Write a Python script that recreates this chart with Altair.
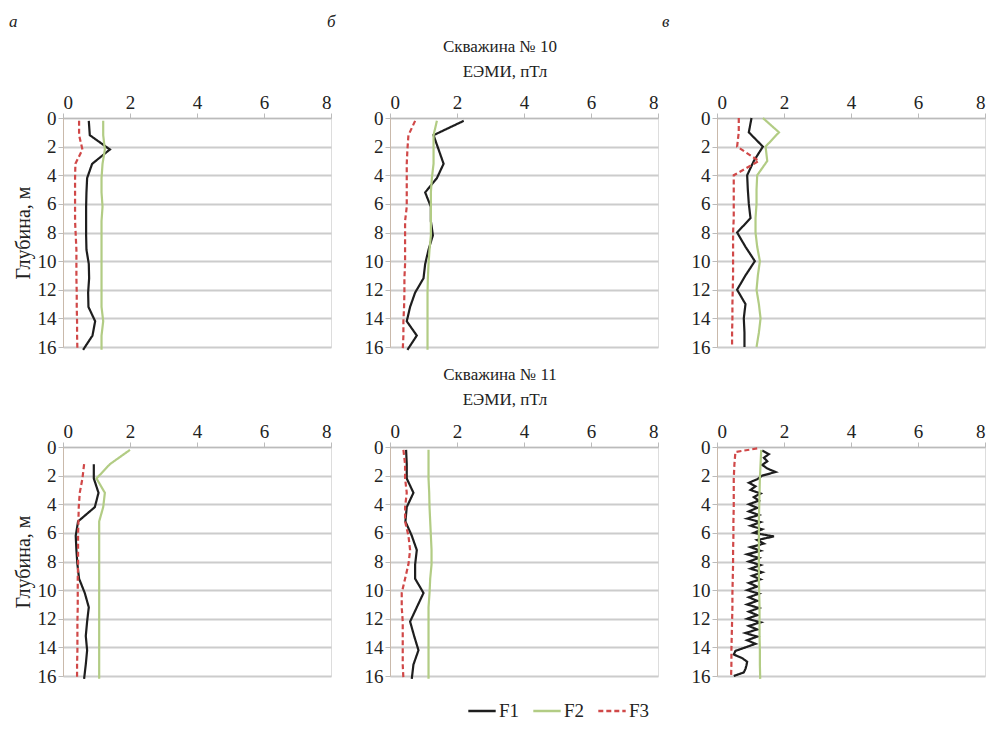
import altair as alt
import pandas as pd

# ---------------- data ----------------
SERIES = ["F1", "F2", "F3"]
COLORS = ["#1e1e1e", "#b2cc84", "#d04848"]
DASHES = [[1, 0], [1, 0], [5, 3]]
X_TICKS = [0, 2, 4, 6, 8]
Y_TICKS = [0, 2, 4, 6, 8, 10, 12, 14, 16]
PANEL_LETTERS = ["а", "б", "в"]
ROW_TITLES = ["Скважина № 10", "Скважина № 11"]
UNIT_TITLE = "ЕЭМИ, пТл"
Y_TITLE = "Глубина, м"

D_A = [0.2, 1.2, 2.2, 3.2, 4.2, 5.2, 6.2, 7.2, 8.2, 9.2, 10.2, 11.2, 12.2, 13.2, 14.2, 15.2, 16.2]
D_B = [0, 1, 2, 3, 4, 5, 6, 7, 8, 9, 10, 11, 12, 13, 14, 15, 16]

# Well 10, panel а
W10A_F1 = [0.77, 0.8, 1.4, 0.87, 0.72, 0.7, 0.69, 0.69, 0.69, 0.7, 0.77, 0.78, 0.75, 0.76, 0.96, 0.88, 0.6]
W10A_F2 = [1.2, 1.2, 1.25, 1.18, 1.15, 1.15, 1.18, 1.15, 1.15, 1.15, 1.15, 1.15, 1.15, 1.15, 1.2, 1.15, 1.15]
W10A_F3 = [0.48, 0.48, 0.58, 0.37, 0.36, 0.36, 0.36, 0.36, 0.38, 0.4, 0.4, 0.4, 0.41, 0.41, 0.42, 0.42, 0.43]
# Well 10, panel б
W10B_F1 = [2.2, 1.3, 1.45, 1.6, 1.4, 1.05, 1.22, 1.22, 1.28, 1.15, 1.05, 1.0, 0.75, 0.6, 0.5, 0.8, 0.52]
W10B_F2 = [1.4, 1.3, 1.3, 1.3, 1.25, 1.22, 1.22, 1.22, 1.22, 1.18, 1.15, 1.13, 1.12, 1.12, 1.12, 1.12, 1.12]
W10B_F3 = [0.75, 0.55, 0.52, 0.5, 0.5, 0.5, 0.5, 0.45, 0.45, 0.45, 0.45, 0.43, 0.43, 0.42, 0.4, 0.4, 0.38]
# Well 10, panel в
W10C_F1 = [1.03, 0.95, 1.37, 1.1, 0.9, 0.92, 0.95, 1.0, 0.6, 0.85, 1.13, 0.85, 0.6, 0.85, 0.8, 0.82, 0.82]
W10C_F2 = [1.37, 1.85, 1.45, 1.5, 1.2, 1.18, 1.18, 1.15, 1.15, 1.2, 1.28, 1.22, 1.18, 1.25, 1.3, 1.25, 1.18]
W10C_F3 = [0.65, 0.65, 0.6, 1.25, 0.5, 0.5, 0.5, 0.5, 0.48, 0.48, 0.48, 0.48, 0.47, 0.46, 0.46, 0.45, 0.45]

# Well 11, panel а
W11A_D13 = [1.2, 2.2, 3.2, 4.2, 5.2, 6.2, 7.2, 8.2, 9.2, 10.2, 11.2, 12.2, 13.2, 14.2, 15.2, 16.2]
W11A_F1 = [0.92, 0.92, 1.06, 0.95, 0.45, 0.38, 0.4, 0.43, 0.48, 0.65, 0.77, 0.72, 0.68, 0.72, 0.68, 0.63]
W11A_F2 = [2.0, 1.4, 1.0, 1.25, 1.2, 1.08, 1.08, 1.08, 1.08, 1.08, 1.08, 1.08, 1.08, 1.08, 1.08, 1.08, 1.08]
W11A_F3 = [0.63, 0.58, 0.5, 0.47, 0.46, 0.45, 0.45, 0.45, 0.44, 0.44, 0.44, 0.43, 0.43, 0.43, 0.42, 0.42]
# Well 11, panel б
W11B_F1 = [0.48, 0.5, 0.5, 0.7, 0.5, 0.46, 0.65, 0.8, 0.75, 0.75, 1.0, 0.8, 0.6, 0.72, 0.85, 0.7, 0.65]
W11B_F2 = [1.15, 1.15, 1.15, 1.17, 1.18, 1.2, 1.22, 1.24, 1.24, 1.2, 1.18, 1.15, 1.15, 1.15, 1.15, 1.15, 1.15]
W11B_F3 = [0.4, 0.45, 0.45, 0.5, 0.45, 0.45, 0.55, 0.6, 0.55, 0.45, 0.35, 0.35, 0.38, 0.38, 0.38, 0.38, 0.4]
# Well 11, panel в
W11C_D1 = [0.25, 0.5, 0.75, 1.0, 1.25, 1.5, 1.75, 2.0, 2.25, 2.5, 2.75, 3.0, 3.25, 3.5, 3.75, 4.0,
           4.25, 4.5, 4.75, 5.0, 5.25, 5.5, 5.75, 6.0, 6.25, 6.5, 6.75, 7.0, 7.25, 7.5, 7.75, 8.0,
           8.25, 8.5, 8.75, 9.0, 9.25, 9.5, 9.75, 10.0, 10.25, 10.5, 10.75, 11.0, 11.25, 11.5, 11.75, 12.0,
           12.25, 12.5, 12.75, 13.0, 13.25, 13.5, 13.75, 14.0, 14.25, 14.5, 14.75, 15.0, 15.25, 15.5, 15.75, 16.0]
W11C_F1 = [1.35, 1.55, 1.4, 1.5, 1.35, 1.5, 1.75, 1.35, 1.2, 0.95, 1.15, 1.0, 1.3, 1.1, 1.25, 0.95,
           1.2, 0.95, 1.25, 0.9, 1.3, 1.0, 1.35, 1.1, 1.7, 1.2, 1.4, 1.0, 1.3, 0.9, 1.25, 0.95,
           1.3, 1.0, 1.35, 1.05, 1.3, 0.95, 1.2, 0.9, 1.25, 0.95, 1.2, 0.9, 1.25, 0.95, 1.2, 0.9,
           1.3, 0.95, 1.2, 0.85, 1.2, 0.9, 1.15, 0.85, 0.55, 0.5, 0.75, 0.9, 0.88, 0.85, 0.8, 0.5]
W11C_F2 = [1.32, 1.3, 1.28, 1.27, 1.26, 1.25, 1.25, 1.25, 1.25, 1.25, 1.26, 1.27, 1.27, 1.27, 1.28, 1.28, 1.29]
W11C_D3 = [0.1, 0.35, 1.2, 2.2, 3.2, 4.2, 5.2, 6.2, 7.2, 8.2, 9.2, 10.2, 11.2, 12.2, 13.2, 14.2, 15.2, 16.0]
W11C_F3 = [1.2, 0.55, 0.52, 0.5, 0.5, 0.5, 0.49, 0.49, 0.48, 0.48, 0.47, 0.46, 0.46, 0.45, 0.44, 0.43, 0.43, 0.42]

PANELS = [
    [(D_A, W10A_F1), (D_A, W10A_F2), (D_A, W10A_F3)],
    [(D_A, W10B_F1), (D_A, W10B_F2), (D_A, W10B_F3)],
    [(D_B, W10C_F1), (D_B, W10C_F2), (D_B, W10C_F3)],
    [(W11A_D13, W11A_F1), (D_A, W11A_F2), (W11A_D13, W11A_F3)],
    [(D_A, W11B_F1), (D_A, W11B_F2), (D_A, W11B_F3)],
    [(W11C_D1, W11C_F1), (D_A, W11C_F2), (W11C_D3, W11C_F3)],
]

FONT = "Times New Roman, Liberation Serif, DejaVu Serif, serif"
W, H = 268, 229


def make_panel(idx, spec):
    rows = []
    for s, (dep, vals) in zip(SERIES, spec):
        for i, (d, v) in enumerate(zip(dep, vals)):
            rows.append({"series": s, "depth": d, "value": v, "i": i})
    df = pd.DataFrame(rows)
    col = idx % 3
    row = idx // 3
    y_title = Y_TITLE if col == 0 else None
    y_axis_kw = dict(values=Y_TICKS, grid=True, gridColor="#cccccc", gridWidth=2,
                     labelFont=FONT, labelFontSize=19, labelColor="#222",
                     domainColor="#c9b9ab", tickColor="#bbbbbb", tickSize=5,
                     labelPadding=2)
    if y_title:
        y_axis_kw.update(title=y_title, titleFont=FONT, titleFontSize=20,
                         titleFontWeight="normal", titleColor="#222", titlePadding=4)
    else:
        y_axis_kw.update(title=None)
    leg = alt.Legend(title=None, orient="none", direction="horizontal",
                     legendX=404, legendY=578, symbolType="stroke",
                     symbolSize=750, symbolStrokeWidth=2.5,
                     labelFont=FONT, labelFontSize=19, labelColor="#222",
                     columnPadding=8, labelOffset=2)
    lines = alt.Chart(df).mark_line(strokeWidth=2.2).encode(
        x=alt.X("value:Q", scale=alt.Scale(domain=[0, 8], nice=False),
                axis=alt.Axis(orient="top", values=X_TICKS, grid=False, title=None,
                              labelFont=FONT, labelFontSize=19, labelColor="#222",
                              domainColor="#bbbbbb", tickColor="#bbbbbb", tickSize=5,
                              labelPadding=1)),
        y=alt.Y("depth:Q", scale=alt.Scale(domain=[0, 16], reverse=True, nice=False),
                axis=alt.Axis(**y_axis_kw)),
        color=alt.Color("series:N", scale=alt.Scale(domain=SERIES, range=COLORS), legend=leg),
        strokeDash=alt.StrokeDash("series:N", scale=alt.Scale(domain=SERIES, range=DASHES), legend=leg),
        detail="series:N",
        order="i:Q",
    )
    layers = [lines]
    if row == 0:
        letter_x = [-54, -63, -55][col]
        ldf = pd.DataFrame({"t": [PANEL_LETTERS[col]]})
        layers.append(alt.Chart(ldf).mark_text(font=FONT, fontSize=17, fontStyle="italic",
                                               align="left", baseline="middle", color="#222")
                      .encode(text="t:N", x=alt.value(letter_x), y=alt.value(-96)))
    if col == 1:
        hdf = pd.DataFrame({"t": [ROW_TITLES[row]]})
        udf = pd.DataFrame({"t": [UNIT_TITLE]})
        dy = -71 if row == 0 else -72
        layers.append(alt.Chart(hdf).mark_text(font=FONT, fontSize=17, align="center",
                                               baseline="middle", color="#222")
                      .encode(text="t:N", x=alt.value(110), y=alt.value(dy)))
        layers.append(alt.Chart(udf).mark_text(font=FONT, fontSize=17, align="center",
                                               baseline="middle", color="#222")
                      .encode(text="t:N", x=alt.value(115), y=alt.value(dy + 25)))
    return alt.layer(*layers).properties(width=W, height=H)


charts = [make_panel(i, p) for i, p in enumerate(PANELS)]

chart = alt.concat(*charts, columns=3, spacing={"row": 100, "column": 59}, bounds="flush").properties(
    padding={"left": 0, "top": 4, "right": 0, "bottom": 0}
).configure_view(stroke=None).configure(background="white", font=FONT)

chart.save("out.html", embed_options={"renderer": "svg", "actions": False})
